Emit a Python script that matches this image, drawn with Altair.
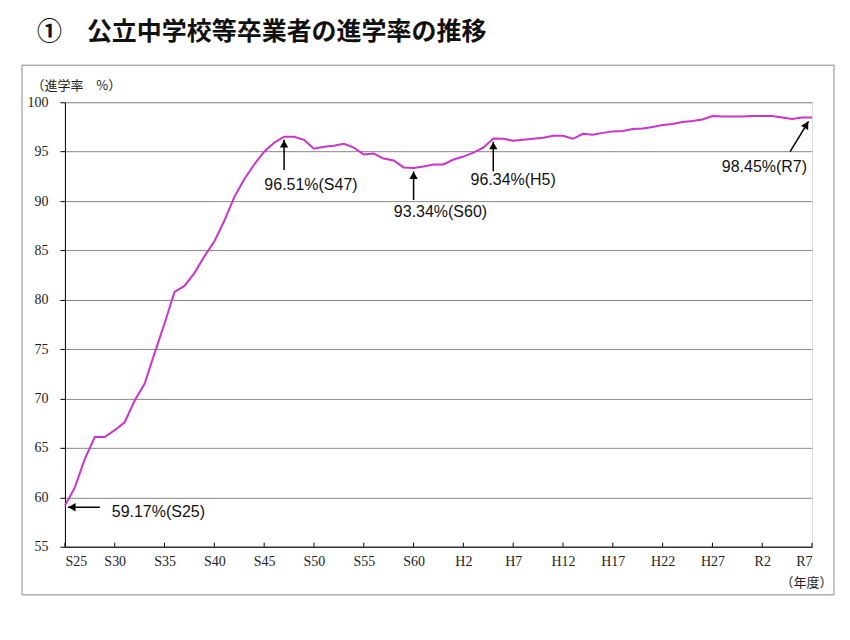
import altair as alt
import pandas as pd

years = list(range(1950, 2026))
rates = [
    59.17, 61.0, 63.9, 66.1, 66.1, 66.8, 67.6, 69.8, 71.5, 74.6,
    77.6, 80.8, 81.4, 82.7, 84.4, 85.9, 88.0, 90.4, 92.2, 93.7,
    95.0, 95.9, 96.51, 96.5, 96.2, 95.3, 95.5, 95.6, 95.8, 95.4,
    94.7, 94.8, 94.3, 94.1, 93.4, 93.34, 93.5, 93.7, 93.7, 94.2,
    94.5, 94.9, 95.4, 96.34, 96.3, 96.1, 96.2, 96.3, 96.4, 96.6,
    96.6, 96.3, 96.8, 96.7, 96.9, 97.05, 97.1, 97.3, 97.35, 97.5,
    97.7, 97.8, 98.0, 98.1, 98.25, 98.6, 98.55, 98.55, 98.55, 98.6,
    98.6, 98.6, 98.45, 98.3, 98.45, 98.45,
]
tick_years = list(range(1950, 2026, 5))
tick_labels = ["S25", "S30", "S35", "S40", "S45", "S50", "S55", "S60",
               "H2", "H7", "H12", "H17", "H22", "H27", "R2", "R7"]
y_ticks = [55, 60, 65, 70, 75, 80, 85, 90, 95, 100]

# annotations (data coordinates): arrow tail -> tip, and label anchor
ann_labels = ["59.17%(S25)", "96.51%(S47)", "93.34%(S60)", "96.34%(H5)", "98.45%(R7)"]
ann_tail_x = [1953.5, 1972, 1985, 1993, 2022.8]
ann_tail_y = [59.0, 93.15, 90.1, 93.0, 95.0]
ann_tip_x = [1950.3, 1972, 1985, 1993, 2024.65]
ann_tip_y = [59.0, 96.2, 93.0, 96.0, 98.07]
ann_text_x = [1954.7, 1974.7, 1987.7, 1995.0, 2024.5]
ann_text_y = [58.5, 91.6, 88.9, 92.15, 93.45]

df = pd.DataFrame({"year": years, "rate": rates})
ann = pd.DataFrame({
    "label": ann_labels,
    "tx": ann_tail_x, "ty": ann_tail_y,
    "hx": ann_tip_x, "hy": ann_tip_y,
    "lx": ann_text_x, "ly": ann_text_y,
})
ticks_df = pd.DataFrame({"year": tick_years})

W, H = 748, 445
xs = alt.Scale(domain=[1950, 2025], nice=False, zero=False)
ys = alt.Scale(domain=[55, 100], nice=False, zero=False)

label_expr = "[" + ",".join("'%s'" % t for t in tick_labels) + "][round((datum.value-1950)/5)]"

x_axis = alt.Axis(
    values=tick_years, labelExpr=label_expr, grid=False,
    tickSize=0, labelPadding=8, domainColor="#000", labelFont="Liberation Serif",
    labelFontSize=14, labelColor="#222",
    title="（年度）", titleX=W + 20, titleY=36, titleAlign="right",
    titleBaseline="middle", titleFont="Noto Sans CJK JP", titleFontSize=13,
    titleFontWeight="normal", titleColor="#222")
y_axis = alt.Axis(
    values=y_ticks, grid=True, gridColor="#888", gridWidth=1,
    tickSize=5, tickColor="#000", domainColor="#000", labelPadding=12,
    labelFont="Liberation Serif", labelFontSize=14, labelColor="#222",
    title="（進学率　%）", titleAngle=0, titleX=-34, titleY=-17,
    titleAlign="left", titleBaseline="middle", titleFont="Noto Sans CJK JP",
    titleFontSize=13, titleFontWeight="normal", titleColor="#222")


def X(f):
    return alt.X(f, scale=xs, axis=x_axis)


def Y(f):
    return alt.Y(f, scale=ys, axis=y_axis)


line = alt.Chart(df).mark_line(color="#CC33CC", strokeWidth=2).encode(
    x=X("year:Q"), y=Y("rate:Q"))

inner_ticks = alt.Chart(ticks_df).mark_rule(color="#000", strokeWidth=1).encode(
    x=X("year:Q"), y=alt.value(H - 4), y2=alt.value(H))

frame = alt.Chart(pd.DataFrame({"a": [0]})).mark_rect(
    filled=False, stroke="#b0b0b0", strokeWidth=1.5
).encode(x=alt.value(-43), x2=alt.value(770), y=alt.value(-37), y2=alt.value(493))

arrows = alt.Chart(ann).mark_rule(color="#000", strokeWidth=1.5).encode(
    x=X("tx:Q"), y=Y("ty:Q"), x2="hx:Q", y2="hy:Q")

head_style = dict(shape="triangle-up", filled=True, color="#000", size=70, opacity=1)
head_up = alt.Chart(ann).transform_filter(
    alt.FieldOneOfPredicate(field="label", oneOf=ann_labels[1:4])
).mark_point(yOffset=4, **head_style).encode(x=X("hx:Q"), y=Y("hy:Q"))
head_left = alt.Chart(ann).transform_filter(
    alt.FieldEqualPredicate(field="label", equal=ann_labels[0])
).mark_point(xOffset=4, angle=270, **head_style).encode(x=X("hx:Q"), y=Y("hy:Q"))
head_diag = alt.Chart(ann).transform_filter(
    alt.FieldEqualPredicate(field="label", equal=ann_labels[4])
).mark_point(xOffset=-2.1, yOffset=3.4, angle=31, **head_style).encode(x=X("hx:Q"), y=Y("hy:Q"))

text_style = dict(font="Liberation Sans", fontSize=16, color="#111", baseline="middle")


def texts(labels, align):
    return alt.Chart(ann).transform_filter(
        alt.FieldOneOfPredicate(field="label", oneOf=labels)
    ).mark_text(align=align, **text_style).encode(
        x=X("lx:Q"), y=Y("ly:Q"), text="label:N")


t_left = texts(ann_labels[0:1], "left")
t_center = texts(ann_labels[1:4], "center")
t_right = texts(ann_labels[4:5], "right")

chart = alt.layer(
    line, frame, inner_ticks, arrows, head_up, head_left, head_diag,
    t_left, t_center, t_right
).properties(
    width=W, height=H,
    autosize=alt.AutoSizeParams(type="none"),
    padding={"left": 57, "top": 94, "right": 30, "bottom": 60},
    title=alt.TitleParams(
        "①　公立中学校等卒業者の進学率の推移", anchor="start", frame="group",
        dx=-28, offset=20, font="Noto Sans CJK JP", fontSize=25,
        fontWeight="bold", color="#111"),
).configure_view(stroke="#888", strokeWidth=1).configure(background="white")

chart.save("out.html", embed_options={"renderer": "svg", "actions": False})
